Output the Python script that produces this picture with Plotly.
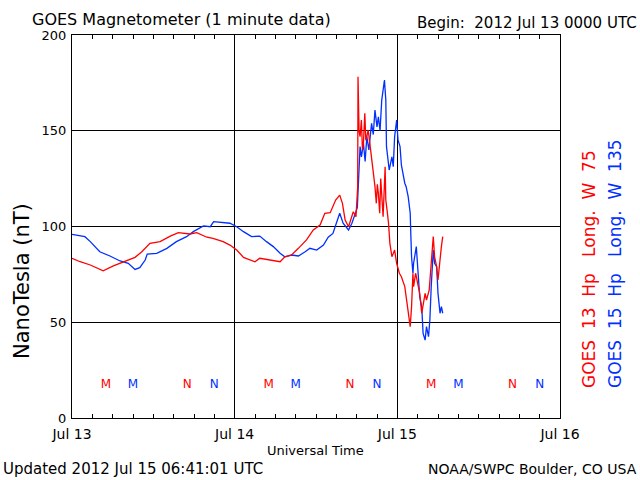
import pandas as pd
import plotly.graph_objects as go

# ---- data (hours since 2012-07-13 00:00 UTC, nT) ----
g13_hours = [0, 1.2, 2.7, 4.6, 6.1, 7.6, 9.3, 10.3, 11.5, 13.0, 14.5, 15.7, 17.4, 18.4,
             19.9, 20.8, 22.3, 23.3, 24.3, 25.3, 27.0, 27.7, 29.2, 30.7, 31.4, 32.4, 33.4,
             34.6, 35.6, 36.6, 37.3, 38.1, 38.9, 39.5, 39.9, 40.3, 40.8, 41.5, 41.9, 42.15,
             42.2, 42.35, 42.5, 42.7, 42.85, 43.0, 43.2, 43.35, 43.5, 43.7, 44.0, 44.2, 44.4,
             44.7, 44.9, 45.05, 45.2, 45.4, 45.55, 45.7, 45.9, 46.2, 46.3, 46.5, 46.7, 46.9,
             47.2, 47.6, 47.9, 48.3, 48.6, 49.1, 49.4, 49.6, 49.9, 50.1, 50.3, 50.4, 50.7,
             51.1, 51.3, 51.6, 51.8, 52.1, 52.3, 52.7, 53.0, 53.3, 53.5, 53.8, 54.0, 54.3,
             54.5, 54.7]
g13_values = [83.4, 81.6, 79.9, 76.9, 79.4, 81.6, 83.9, 86.8, 91.2, 92.1, 95.0, 96.8, 96.1, 96.8,
              94.4, 93.8, 92.1, 90.3, 87.7, 83.9, 81.6, 83.4, 82.5, 81.6, 84.2, 85.1, 88.6,
              93.0, 98.2, 100.8, 106.9, 107.2, 113.8, 116.4, 112.1, 103.4, 99.9, 107.7, 105.1, 120.8,
              178.2, 150.0, 146.9, 155.6, 140.0, 143.4, 159.1, 145.0, 146.9, 150.4, 141.7, 136.4, 129.5,
              120.8, 112.1, 122.0, 117.3, 106.9, 125.0, 115.6, 105.1, 131.2, 113.8, 108.0, 101.7, 91.2,
              84.2, 87.7, 80.8, 75.6, 73.8, 68.6, 61.6, 56.4, 47.7, 58.1, 75.6, 68.6, 75.6,
              68.6, 65.1, 54.7, 59.9, 65.1, 61.6, 66.8, 80.8, 94.7, 84.2, 79.0, 72.1, 84.2,
              89.5, 94.7]

g15_hours = [0, 1.9, 2.7, 4.1, 5.6, 7.1, 8.3, 9.3, 10.0, 10.8, 11.1, 12.5, 14.0, 15.4, 16.9,
             17.9, 19.4, 20.4, 20.9, 22.3, 23.3, 24.3, 25.3, 26.5, 27.7, 28.7, 29.7, 30.7,
             31.4, 32.4, 33.4, 34.4, 35.1, 36.1, 37.1, 37.8, 38.5, 39.0, 39.5, 40.0, 40.8,
             41.3, 41.9, 42.1, 42.5, 42.7, 43.0, 43.25, 43.5, 43.8, 44.2, 44.45, 44.7, 45.0,
             45.2, 45.45, 45.7, 46.1, 46.3, 46.4, 46.8, 47.2, 47.4, 47.6, 47.9, 48.1, 48.4,
             48.6, 49.1, 49.3, 49.6, 49.9, 50.0, 50.1, 50.3, 50.4, 50.8, 51.1, 51.3, 51.6,
             51.8, 52.1, 52.3, 52.6, 52.8, 53.0, 53.3, 53.5, 53.8, 54.0, 54.3, 54.5, 54.7]
g15_values = [95.9, 94.7, 92.1, 86.8, 84.6, 82.0, 80.8, 77.6, 78.5, 82.5, 85.6, 86.0, 88.6, 92.1, 94.7,
              97.3, 100.3, 99.9, 102.5, 102.0, 101.7, 99.9, 97.3, 94.7, 95.0, 92.1, 89.5, 86.0,
              84.2, 85.1, 84.6, 86.8, 88.6, 87.7, 90.3, 94.4, 96.4, 101.7, 106.9, 101.7, 98.2,
              101.7, 108.6, 110.0, 141.7, 136.4, 143.4, 134.0, 146.9, 140.0, 153.9, 148.0, 160.8, 152.0,
              157.3, 150.0, 166.0, 176.5, 166.0, 141.7, 129.5, 136.4, 131.2, 146.9, 155.6, 145.2, 141.7,
              132.0, 122.6, 120.8, 115.6, 106.9, 94.7, 84.2, 75.6, 80.8, 89.5, 72.1, 63.3, 58.1,
              44.2, 40.7, 47.7, 42.5, 51.2, 68.6, 87.7, 80.8, 79.0, 65.1, 54.7, 58.1, 54.7]

# local midnight (M) / noon (N) markers
g13_mark_hours = [5, 17, 29, 41, 53, 65]
g13_mark_text = ["M", "N", "M", "N", "M", "N"]
g15_mark_hours = [9, 21, 33, 45, 57, 69]
g15_mark_text = ["M", "N", "M", "N", "M", "N"]
mark_level = 17

day_ticks = ["2012-07-13", "2012-07-14", "2012-07-15", "2012-07-16"]
day_labels = ["Jul 13", "Jul 14", "Jul 15", "Jul 16"]
y_ticks = [0, 50, 100, 150, 200]

RED = "#ff0000"
BLUE = "#0030ff"
FONT = "DejaVu Sans"

t0 = pd.Timestamp("2012-07-13")
def to_time(hours):
    return [t0 + pd.Timedelta(hours=h) for h in hours]

fig = go.Figure()
fig.add_trace(go.Scatter(x=to_time(g15_hours), y=g15_values, mode="lines",
                         line=dict(color=BLUE, width=1.3), showlegend=False))
fig.add_trace(go.Scatter(x=to_time(g13_hours), y=g13_values, mode="lines",
                         line=dict(color=RED, width=1.3), showlegend=False))
fig.add_trace(go.Scatter(x=to_time(g13_mark_hours), y=[mark_level] * len(g13_mark_hours),
                         mode="text", text=g13_mark_text,
                         textfont=dict(color=RED, size=12, family=FONT), showlegend=False))
fig.add_trace(go.Scatter(x=to_time(g15_mark_hours), y=[mark_level] * len(g15_mark_hours),
                         mode="text", text=g15_mark_text,
                         textfont=dict(color=BLUE, size=12, family=FONT), showlegend=False))

L, R, T, B = 72, 80, 35, 62
W, H = 640, 480
pw, ph = W - L - R, H - T - B

def px(x):
    return (x - L) / pw

def py(y):
    return (H - B - y) / ph

fig.update_layout(
    width=W, height=H,
    margin=dict(l=L, r=R, t=T, b=B, pad=0),
    paper_bgcolor="white", plot_bgcolor="white",
    font=dict(family=FONT, size=13, color="black"),
    xaxis=dict(type="date", range=[day_ticks[0], day_ticks[-1]],
               tickmode="array", tickvals=day_ticks, ticktext=day_labels,
               showgrid=True, gridcolor="black", gridwidth=1,
               ticks="inside", ticklen=4, tickcolor="black",
               minor=dict(dtick=3 * 3600 * 1000, ticks="inside", ticklen=4,
                          tickcolor="black", showgrid=False),
               showline=True, linecolor="black", linewidth=1, mirror="ticks",
               zeroline=False, tickfont=dict(size=14), automargin=False,
               ticklabelstandoff=3),
    yaxis=dict(range=[0, 200], tickmode="array", tickvals=y_ticks,
               showgrid=True, gridcolor="black", gridwidth=1,
               ticks="", showline=True, linecolor="black", linewidth=1, mirror=True,
               zeroline=False, tickfont=dict(size=13), ticklabelstandoff=2,
               automargin=False),
)

ann = [
    dict(text="GOES Magnetometer (1 minute data)", x=px(30), y=py(20),
         xanchor="left", yanchor="middle", font=dict(size=16)),
    dict(text="Begin:\u00a0\u00a02012 Jul 13 0000 UTC", x=px(639), y=py(23),
         xanchor="right", yanchor="middle", font=dict(size=15)),
    dict(text="Universal Time", x=px(315.5), y=py(450),
         xanchor="center", yanchor="middle", font=dict(size=13)),
    dict(text="Updated 2012 Jul 15 06:41:01 UTC", x=px(1), y=py(469),
         xanchor="left", yanchor="middle", font=dict(size=15)),
    dict(text="NOAA/SWPC Boulder, CO USA", x=px(639), y=py(469),
         xanchor="right", yanchor="middle", font=dict(size=14)),
    dict(text="NanoTesla (nT)", x=px(22), y=py(281), textangle=-90,
         xanchor="center", yanchor="middle", font=dict(size=21)),
    dict(text="GOES\u00a0\u00a013\u00a0\u00a0Hp\u00a0\u00a0\u00a0Long.\u00a0\u00a0W\u00a0\u00a075",
         x=px(589), y=py(390), textangle=-90,
         xanchor="center", yanchor="bottom", font=dict(size=17, color=RED)),
    dict(text="GOES\u00a0\u00a015\u00a0\u00a0Hp\u00a0\u00a0\u00a0Long.\u00a0\u00a0W\u00a0\u00a0135",
         x=px(614.5), y=py(390), textangle=-90,
         xanchor="center", yanchor="bottom", font=dict(size=17, color=BLUE)),
]
for a in ann:
    a.update(xref="paper", yref="paper", showarrow=False)
fig.update_layout(annotations=ann)

fig.write_html("out.html",
               config={"displayModeBar": False},
               post_script="document.body.style.margin='0';document.body.style.padding='0';")
